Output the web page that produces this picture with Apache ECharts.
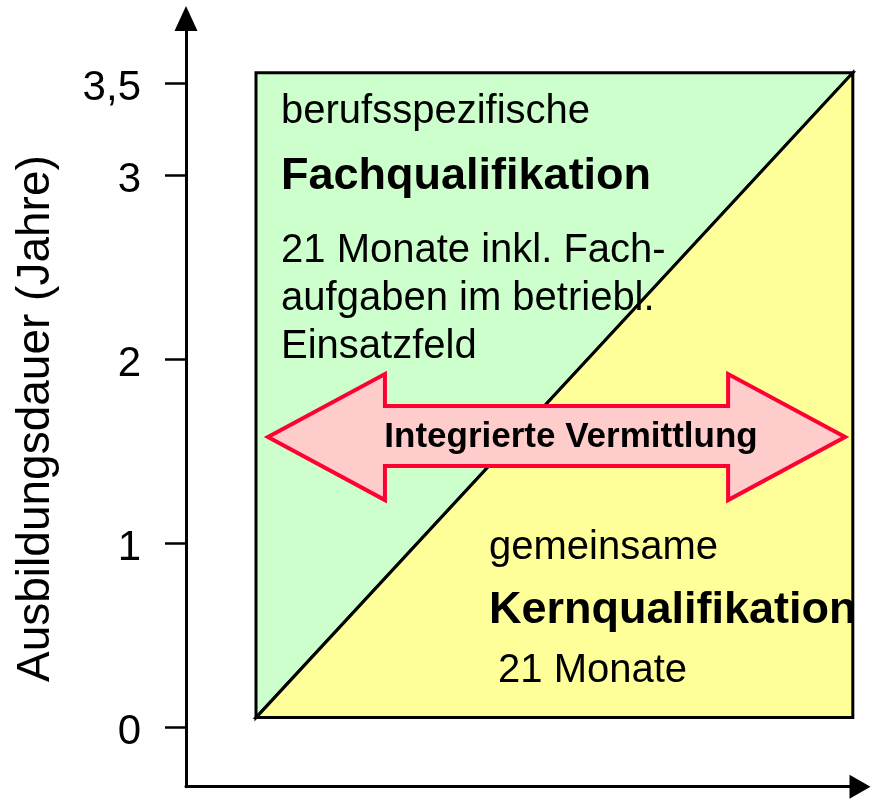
<!DOCTYPE html>
<html>
<head>
<meta charset="utf-8">
<script src="https://cdn.jsdelivr.net/npm/echarts@6/dist/echarts.min.js"></script>
<style>
html,body{margin:0;padding:0;background:#fff;}
#chart{width:872px;height:805px;}
</style>
</head>
<body>
<div id="chart"></div>
<script>
// ---- data (years on the vertical axis) ----
const yTickValues = [0, 1, 2, 3, 3.5];
const yAxisTitle = 'Ausbildungsdauer (Jahre)';
// upper-left triangle: berufsspezifische Fachqualifikation
const fachTriangle = [[0.38, 0.055], [0.38, 3.555], [3.62, 3.555]];
// lower-right triangle: gemeinsame Kernqualifikation
const kernTriangle = [[0.38, 0.055], [3.62, 0.055], [3.62, 3.555]];
// double-headed arrow "Integrierte Vermittlung"
const arrowShape = [
  [0.445, 1.578], [1.080, 1.920], [1.080, 1.747], [2.943, 1.747], [2.943, 1.920],
  [3.578, 1.578], [2.943, 1.236], [2.943, 1.421], [1.080, 1.421], [1.080, 1.236]
];
// text annotations
const upperTexts = ['berufsspezifische', 'Fachqualifikation', '21 Monate inkl. Fach-', 'aufgaben im betriebl.', 'Einsatzfeld'];
const upperTextX = [0.516, 0.516, 0.516, 0.516, 0.516];
const upperTextY = [3.345, 2.99, 2.59, 2.33, 2.065];
const upperBold = [false, true, false, false, false];
const lowerTexts = ['gemeinsame', 'Kernqualifikation', '21 Monate'];
const lowerTextX = [1.645, 1.645, 1.694];
const lowerTextY = [0.976, 0.636, 0.308];
const lowerBold = [false, true, false];
const arrowText = 'Integrierte Vermittlung';
const arrowTextPos = [2.09, 1.578];

const FONT = '"Liberation Sans", Arial, Helvetica, sans-serif';

function polygonSeries(poly, fill, stroke, lw, z) {
  return {
    type: 'custom',
    coordinateSystem: 'cartesian2d',
    silent: true,
    z: z,
    data: poly,
    renderItem: function (params, api) {
      if (params.dataIndex !== 0) return null;
      const pts = poly.map(p => api.coord(p));
      return {
        type: 'polygon',
        shape: { points: pts },
        style: { fill: fill, stroke: stroke, lineWidth: lw, lineJoin: 'miter' }
      };
    }
  };
}

function textData(texts, xs, ys, bolds, size, boldSize) {
  return texts.map((t, i) => ({
    value: [xs[i], ys[i]],
    label: {
      show: true,
      formatter: t,
      position: [0, 0],
      align: 'left',
      verticalAlign: 'middle',
      fontFamily: FONT,
      fontSize: bolds[i] ? boldSize : size,
      fontWeight: bolds[i] ? 'bold' : 'normal',
      color: '#000',
      opacity: 1
    }
  }));
}

const chart = echarts.init(document.getElementById('chart'), null, { renderer: 'canvas' });
chart.setOption({
  animation: false,
  backgroundColor: '#fff',
  grid: { left: 186, right: 12, top: 18.5, bottom: 18.3, containLabel: false },
  xAxis: {
    type: 'value',
    min: 0,
    max: 3.659,
    axisLine: {
      show: true, onZero: false,
      symbol: ['none', 'triangle'],
      symbolSize: [24, 21],
      lineStyle: { color: '#000', width: 3 }
    },
    axisTick: { show: false },
    axisLabel: { show: false },
    splitLine: { show: false }
  },
  yAxis: {
    type: 'value',
    min: -0.32,
    max: 3.85,
    name: yAxisTitle,
    nameLocation: 'middle',
    nameRotate: 90,
    nameGap: 127,
    nameTextStyle: { fontFamily: FONT, fontSize: 46, color: '#000', padding: [0, 32, 0, 0] },
    axisLine: {
      show: true, onZero: false,
      symbol: ['none', 'triangle'],
      symbolSize: [23, 25],
      lineStyle: { color: '#000', width: 3 }
    },
    axisTick: {
      show: true,
      customValues: yTickValues,
      length: 21,
      lineStyle: { color: '#000', width: 2.5 }
    },
    axisLabel: {
      show: true,
      customValues: yTickValues,
      formatter: v => String(v).replace('.', ','),
      fontFamily: FONT,
      fontSize: 42,
      color: '#000',
      margin: 45,
      verticalAlign: 'top',
      lineHeight: 10
    },
    splitLine: { show: false }
  },
  series: [
    polygonSeries(fachTriangle, '#CCFFCC', '#000', 3, 1),
    polygonSeries(kernTriangle, '#FFFF99', '#000', 3, 1),
    polygonSeries(arrowShape, '#FFCCCC', '#FF0033', 4, 2),
    {
      type: 'scatter',
      symbolSize: 0,
      silent: true,
      z: 3,
      itemStyle: { opacity: 1 },
      data: textData(upperTexts, upperTextX, upperTextY, upperBold, 40, 45)
        .concat(textData(lowerTexts, lowerTextX, lowerTextY, lowerBold, 40, 45))
        .concat([{
          value: arrowTextPos,
          label: {
            show: true, formatter: arrowText, position: [0, 0],
            align: 'center', verticalAlign: 'middle', opacity: 1,
            fontFamily: FONT, fontSize: 35, fontWeight: 'bold', color: '#000'
          }
        }])
    }
  ]
});
</script>
</body>
</html>
